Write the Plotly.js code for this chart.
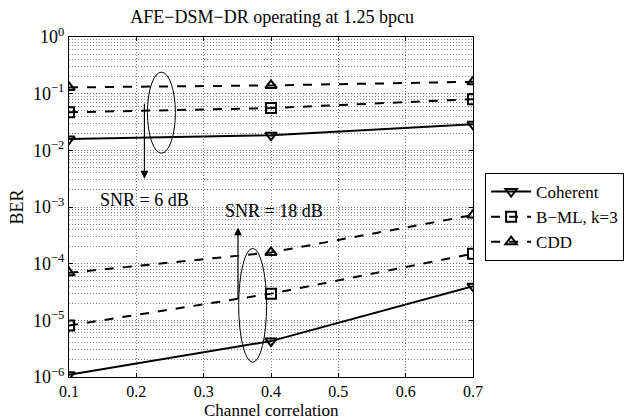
<!DOCTYPE html>
<html>
<head>
<meta charset="utf-8">
<script src="https://cdn.plot.ly/plotly-3.0.1.min.js"></script>
<style>html,body{margin:0;padding:0;background:#fff}#chart{width:636px;height:420px}</style>
</head>
<body>
<div id="chart"></div>
<script>
const correlation = [0.1, 0.4, 0.7];
const seriesNames = ["Coherent", "B\u2212ML, k=3", "CDD"];
// SNR = 6 dB
const coherent6 = [0.0158, 0.0185, 0.0288];
const bml6 = [0.047, 0.0557, 0.080];
const cdd6 = [0.129, 0.140, 0.162];
// SNR = 18 dB
const coherent18 = [1.1e-6, 4.3e-6, 4.0e-5];
const bml18 = [8.1e-6, 2.96e-5, 1.5e-4];
const cdd18 = [6.9e-5, 1.58e-4, 7.2e-4];

const xTicks = [0.1, 0.2, 0.3, 0.4, 0.5, 0.6, 0.7];
const xTickLabels = ["0.1", "0.2", "0.3", "0.4", "0.5", "0.6", "0.7"];
const yTicks = [1e-6, 1e-5, 1e-4, 1e-3, 1e-2, 1e-1, 1];
const yTickLabels = ["10<sup>\u22126</sup>", "10<sup>\u22125</sup>", "10<sup>\u22124</sup>", "10<sup>\u22123</sup>", "10<sup>\u22122</sup>", "10<sup>\u22121</sup>", "10<sup>0</sup>"];

const FONT = "'Liberation Serif', 'Times New Roman', serif";
const FS = 18;
const styles = [
  {dash: "solid", symbol: "triangle-down-open"},
  {dash: "dash", symbol: "square-open"},
  {dash: "dash", symbol: "triangle-up-open"}
];
function tr(y, i, show) {
  return {
    x: correlation, y: y, type: "scatter", mode: "lines+markers",
    name: seriesNames[i], legendgroup: "g" + i, showlegend: show,
    line: {color: "#000", width: 2, dash: styles[i].dash},
    marker: {symbol: styles[i].symbol, size: 10, color: "#000", line: {color: "#000", width: 2}}
  };
}
const data = [
  tr(coherent6, 0, true), tr(bml6, 1, true), tr(cdd6, 2, true),
  tr(coherent18, 0, false), tr(bml18, 1, false), tr(cdd18, 2, false)
];
const P = v => Math.pow(10, v);
const GRID = "1px,2px";

const layout = {
  width: 636, height: 420,
  margin: {l: 69, r: 160, t: 37, b: 43},
  paper_bgcolor: "#fff", plot_bgcolor: "#fff",
  font: {family: FONT, size: FS, color: "#000"},
  title: {text: "AFE\u2212DSM\u2212DR operating at 1.25 bpcu", x: 0.428, xanchor: "center", y: 0.96, yanchor: "middle", font: {family: FONT, size: FS}},
  showlegend: true,
  legend: {x: 1.03, xanchor: "left", y: 0.6, yanchor: "top", bgcolor: "#fff", bordercolor: "#000", borderwidth: 1,
    font: {family: FONT, size: 17}, tracegroupgap: 0, itemwidth: 40},
  xaxis: {
    range: [0.1, 0.7], tickvals: xTicks, ticktext: xTickLabels,
    showline: true, linecolor: "#000", linewidth: 1, mirror: "allticks",
    ticks: "inside", ticklen: 4, tickcolor: "#000",
    showgrid: true, gridcolor: "#777", griddash: GRID, gridwidth: 1,
    zeroline: false, tickfont: {family: FONT, size: 16}
  },
  yaxis: {
    type: "log", range: [-6, 0], tickvals: yTicks, ticktext: yTickLabels,
    showline: true, linecolor: "#000", linewidth: 1, mirror: "allticks",
    ticks: "inside", ticklen: 4, tickcolor: "#000",
    showgrid: true, gridcolor: "#777", griddash: GRID, gridwidth: 1,
    minor: {dtick: "D1", showgrid: true, gridcolor: "#888", griddash: GRID, gridwidth: 1, ticks: ""},
    zeroline: false, tickfont: {family: FONT, size: FS},
    title: {text: "BER", standoff: 4, font: {family: FONT, size: FS}}
  },
  shapes: [
    {type: "circle", xref: "x", yref: "y", x0: 0.2165, x1: 0.258, y0: P(-2.05), y1: P(-0.62), line: {color: "#000", width: 1}},
    {type: "circle", xref: "x", yref: "y", x0: 0.352, x1: 0.3935, y0: P(-5.74), y1: P(-3.73), line: {color: "#000", width: 1}}
  ],
  annotations: [
    {x: 0.212, y: -2.5, ax: 0.212, ay: -1.15, xref: "x", yref: "y", axref: "x", ayref: "y", text: "", showarrow: true, arrowhead: 2, arrowsize: 1.3, arrowwidth: 1.2, arrowcolor: "#000"},
    {x: 0.351, y: -3.36, ax: 0.351, ay: -4.65, xref: "x", yref: "y", axref: "x", ayref: "y", text: "", showarrow: true, arrowhead: 2, arrowsize: 1.3, arrowwidth: 1.2, arrowcolor: "#000"},
    {x: 0.212, y: -2.88, xref: "x", yref: "y", text: "SNR = 6 dB", showarrow: false, font: {family: FONT, size: FS}},
    {x: 0.405, y: -3.07, xref: "x", yref: "y", text: "SNR = 18 dB", showarrow: false, font: {family: FONT, size: FS}},
    {x: 0.5, y: -0.0985, xref: "paper", yref: "paper", xanchor: "center", yanchor: "middle", text: "Channel correlation", showarrow: false, borderpad: 0, font: {family: FONT, size: 17}}
  ]
};

Plotly.newPlot("chart", data, layout, {displayModeBar: false, staticPlot: true});
</script>
</body>
</html>
